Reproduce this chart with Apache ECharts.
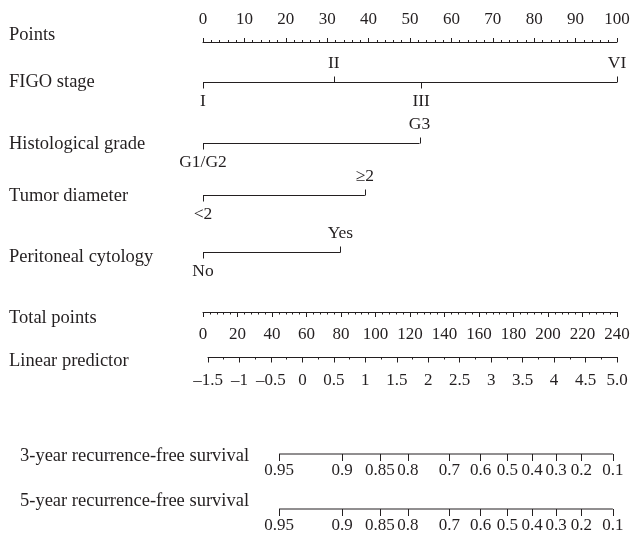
<!DOCTYPE html>
<html>
<head>
<meta charset="utf-8">
<script src="https://cdn.jsdelivr.net/npm/echarts@6/dist/echarts.min.js"></script>
<style>html,body{margin:0;padding:0;background:#fff}#c{width:632px;height:541px}</style>
</head>
<body>
<div id="c"></div>
<script>
// ---- data ----
const rowLabels = ['Points','FIGO stage','Histological grade','Tumor diameter','Peritoneal cytology','Total points','Linear predictor','3-year recurrence-free survival','5-year recurrence-free survival'];
const figoLevels = ['I','II','III','VI'];
const figoPoints = [0, 31.6, 52.7, 100];
const gradeLevels = ['G1/G2','G3'];
const gradePoints = [0, 52.3];
const diamLevels = ['<2','\u22652'];
const diamPoints = [0, 39.1];
const cytoLevels = ['No','Yes'];
const cytoPoints = [0, 33.2];
const survLabels = ['0.95','0.9','0.85','0.8','0.7','0.6','0.5','0.4','0.3','0.2','0.1'];
const surv3Total = [44.1, 80.6, 102.6, 118.7, 142.8, 161.0, 176.4, 190.8, 204.7, 219.4, 237.6];
const surv5Total = [44.1, 80.6, 102.6, 118.7, 142.8, 161.0, 176.4, 190.8, 204.7, 219.4, 237.6];
const pointsRange = [0, 100];
const totalRange = [0, 240];
const lpRange = [-1.5, 5.0];

// ---- layout / style ----
const FONT = 'Liberation Serif';
const INK = '#231f20';
const FS = 17;
const FS_ROW = 18.5;
const FS_LVL = 17.5;
const labelSides = { figo: [-1, 1, -1, 1], grade: [-1, 1], diam: [-1, 1], cyto: [-1, 1] };
const rowPos = [[9,35],[9,82],[9,144],[9,196],[9,257],[9,318],[9,361],[20,456],[20,501]];
const L = 203, R = 632 - 617;

const chart = echarts.init(document.getElementById('c'), null, {renderer:'canvas'});

const grids = [], xAxes = [], yAxes = [], series = [];
function addGrid(top, left) {
  grids.push({left: left == null ? L : left, right: R, top: top, height: 10, outerBoundsMode: 'none', containLabel: false});
  const i = grids.length - 1;
  yAxes.push({gridIndex: i, type: 'value', min: 0, max: 1, show: false});
  return i;
}
const lbl = {color: INK, fontFamily: FONT, fontSize: FS};

// Points axis
let g = addGrid(42, L);
xAxes.push({gridIndex: g, type: 'value', position: 'top', min: pointsRange[0], max: pointsRange[1], interval: 10,
  axisLine: {show: true, onZero: false, lineStyle: {color: INK, width: 1}},
  axisTick: {show: true, length: 4, lineStyle: {color: INK, width: 1}},
  minorTick: {show: true, splitNumber: 5, length: 2, lineStyle: {color: INK, width: 1}},
  axisLabel: Object.assign({margin: 14}, lbl), splitLine: {show: false}});

function catRow(lineY, vals, labels, sides) {
  const gi = addGrid(lineY - 10, L);
  xAxes.push({gridIndex: gi, type: 'value', min: pointsRange[0], max: pointsRange[1], show: false});
  series.push({type: 'line', xAxisIndex: gi, yAxisIndex: gi, data: [[0, 0], [Math.max.apply(null, vals), 0]],
    symbol: 'none', clip: false, silent: true, lineStyle: {color: INK, width: 1}});
  series.push({type: 'custom', xAxisIndex: gi, yAxisIndex: gi, clip: false, silent: true,
    data: vals.map((v, i) => [v, 0, sides[i]]),
    renderItem: function (params, api) {
      const p = api.coord([api.value(0), api.value(1)]);
      const s = api.value(2);
      const x = Math.round(p[0]) + 0.5;
      return {type: 'group', children: [
        {type: 'line', shape: {x1: x, y1: p[1], x2: x, y2: p[1] - s * 6}, style: {stroke: INK, lineWidth: 1}},
        {type: 'text', x: p[0], y: p[1] - s * 19, style: {text: labels[params.dataIndex], fill: INK,
          font: FS_LVL + 'px "' + FONT + '"', align: 'center', verticalAlign: 'middle'}}
      ]};
    }});
}
catRow(82.5, figoPoints, figoLevels, labelSides.figo);
catRow(143.5, gradePoints, gradeLevels, labelSides.grade);
catRow(195.5, diamPoints, diamLevels, labelSides.diam);
catRow(252.5, cytoPoints, cytoLevels, labelSides.cyto);

// Total points
g = addGrid(302, L);
xAxes.push({gridIndex: g, type: 'value', position: 'bottom', min: totalRange[0], max: totalRange[1], interval: 20,
  axisLine: {show: true, onZero: false, lineStyle: {color: INK, width: 1}},
  axisTick: {show: true, length: 5, lineStyle: {color: INK, width: 1}},
  minorTick: {show: true, splitNumber: 5, length: 2.5, lineStyle: {color: INK, width: 1}},
  axisLabel: Object.assign({margin: 14.5}, lbl), splitLine: {show: false}});

// Linear predictor
g = addGrid(347, 208);
xAxes.push({gridIndex: g, type: 'value', position: 'bottom', min: lpRange[0], max: lpRange[1], interval: 0.5,
  axisLine: {show: true, onZero: false, lineStyle: {color: INK, width: 1}},
  axisTick: {show: true, length: 5.5, lineStyle: {color: INK, width: 1}},
  minorTick: {show: true, splitNumber: 2, length: 2.5, lineStyle: {color: INK, width: 1}},
  axisLabel: Object.assign({margin: 15, formatter: function (v) {
    if (Math.abs(v - 5) < 1e-9) return '5.0';
    return v < 0 ? '\u2013' + String(Math.abs(v)) : String(v);
  }}, lbl), splitLine: {show: false}});

function survRow(lineY, totals) {
  const gi = addGrid(lineY - 10, L);
  xAxes.push({gridIndex: gi, type: 'value', position: 'bottom', min: totalRange[0], max: totalRange[1],
    axisLine: {show: false, onZero: false},
    axisTick: {show: true, length: 7, customValues: totals, lineStyle: {color: INK, width: 1}},
    axisLabel: Object.assign({margin: 8, customValues: totals, formatter: function (v) {
      const k = totals.findIndex(t => Math.abs(t - v) < 1e-6);
      return k >= 0 ? survLabels[k] : '';
    }}, lbl), splitLine: {show: false}});
  series.push({type: 'line', xAxisIndex: gi, yAxisIndex: gi, data: [[totals[0], 0], [totals[totals.length - 1], 0]],
    symbol: 'none', clip: false, silent: true, lineStyle: {color: INK, width: 1}});
}
survRow(454, surv3Total);
survRow(509, surv5Total);

const graphics = rowLabels.map((t, i) => ({type: 'text', x: rowPos[i][0], y: rowPos[i][1],
  style: {text: t, fill: INK, font: FS_ROW + 'px "' + FONT + '"', verticalAlign: 'middle'}}));

chart.setOption({
  animation: false,
  backgroundColor: '#fff',
  grid: grids, xAxis: xAxes, yAxis: yAxes, series: series,
  graphic: graphics
});
</script>
</body>
</html>
